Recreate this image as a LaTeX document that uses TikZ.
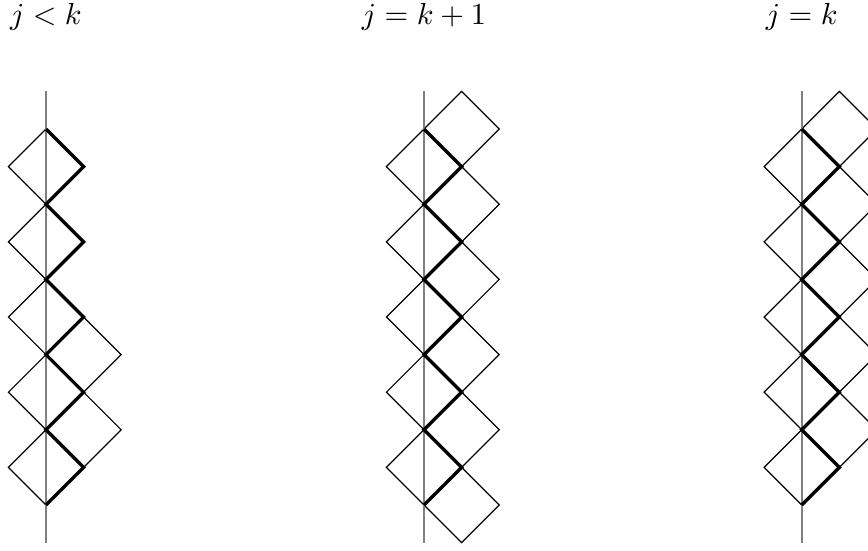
\documentclass[tikz,border=0pt]{standalone}
\begin{document}
\begin{tikzpicture}[x=0.3283pt,y=-0.3283pt,
  thinedge/.style={black,line width=0.4pt,line join=miter},
  axisline/.style={gray,line width=0.7pt},
  pathline/.style={black,line width=1.1pt,line join=miter},
  lbl/.style={inner sep=0pt,anchor=base}]
\useasboundingbox (0,0) rectangle (868,550);
\clip (0,0) rectangle (868,550);
\def\h{37.6}
% column centres
\foreach \X/\nr/\ml/\name/\txt in {46/1/0/a/{$j<k$},424/5/0/b/{$j=k+1$},801.7/4/0/c/{$j=k$}}{
  % left diamonds
  \foreach \i in {0,...,4}{
    \pgfmathsetmacro{\cy}{166.6+75.2*\i}
    \draw[thinedge] (\X,\cy-\h) -- (\X+\h,\cy) -- (\X,\cy+\h) -- (\X-\h,\cy) -- cycle;
  }
  \node[lbl] (lab\name) at (\X,24) {\txt};
}
% right diamonds, column 1
\foreach \m in {3,4}{
  \pgfmathsetmacro{\cy}{129+75.2*\m}
  \draw[thinedge] (46+\h,\cy-\h) -- (46+2*\h,\cy) -- (46+\h,\cy+\h) -- (46,\cy) -- cycle;
}
% right diamonds, column 2
\foreach \m in {0,...,5}{
  \pgfmathsetmacro{\cy}{129+75.2*\m}
  \draw[thinedge] (424+\h,\cy-\h) -- (424+2*\h,\cy) -- (424+\h,\cy+\h) -- (424,\cy) -- cycle;
}
% right diamonds, column 3
\foreach \m in {0,...,4}{
  \pgfmathsetmacro{\cy}{129+75.2*\m}
  \draw[thinedge] (801.7+\h,\cy-\h) -- (801.7+2*\h,\cy) -- (801.7+\h,\cy+\h) -- (801.7,\cy) -- cycle;
}
% vertical lines and thick zigzags
\foreach \X in {46,424,801.7}{
  \draw[axisline] (\X,91.4) -- (\X,542.6);
  \draw[pathline] (\X,129)
    \foreach \i in {0,...,4}{ -- (\X+\h,166.6+75.2*\i) -- (\X,204.2+75.2*\i) };
}
\end{tikzpicture}
\end{document}
